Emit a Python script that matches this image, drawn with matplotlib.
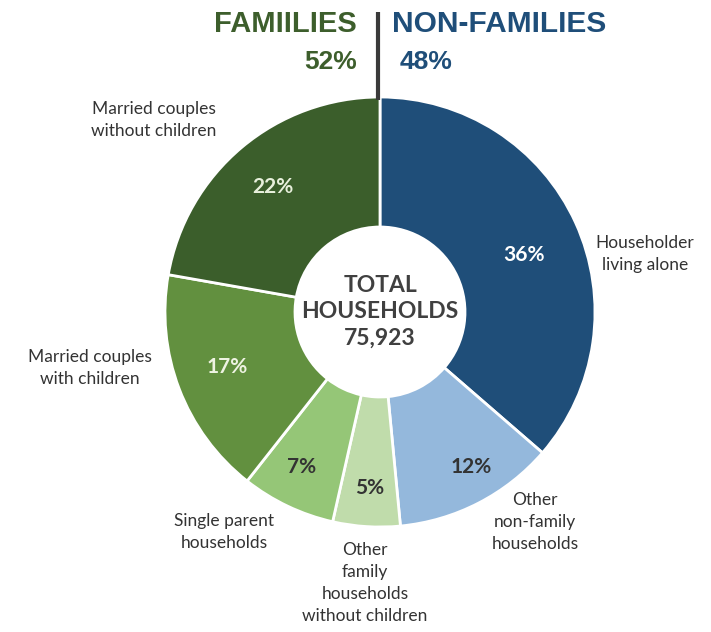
import matplotlib.pyplot as plt

# data (clockwise from 12 o'clock)
categories = ['Householder\nliving alone', 'Other\nnon-family\nhouseholds',
              'Other\nfamily\nhouseholds\nwithout children', 'Single parent\nhouseholds',
              'Married couples\nwith children', 'Married couples\nwithout children']
shares = [36, 12, 5, 7, 17, 22]
pct_labels = ['36%', '12%', '5%', '7%', '17%', '22%']
colors = ['#1f4e79', '#94b8dc', '#c0dcab', '#95c677', '#62903f', '#3b5e2b']
pct_colors = ['white', '#333333', '#333333', '#333333', '#eef3e2', '#e8f0dc']

groups = ['FAMIILIES', 'NON-FAMILIES']
group_pcts = ['52%', '48%']
total = '75,923'

W, H = 711, 632
fig = plt.figure(figsize=(W / 100, H / 100), dpi=100)
ax = fig.add_axes([0, 0, 1, 1])

cx, cy, R = 380, 312, 215
# pie drawn in a flipped y axis, so counterclock=True gives clockwise on screen
ax.pie(shares, colors=colors, startangle=-90, counterclock=True, center=(cx, cy),
       radius=R, wedgeprops=dict(width=R - 85, edgecolor='white', linewidth=2),
       frame=True)
ax.set_xlim(0, W)
ax.set_ylim(H, 0)
ax.axis('off')

lab_font = ['Lato', 'DejaVu Sans']

# percentage labels
pct_pos = [(524, 255), (471, 467), (370, 488), (302, 467), (227, 367), (273, 187)]
for (x, y), t, c in zip(pct_pos, pct_labels, pct_colors):
    ax.text(x, y, t, ha='center', va='center', fontsize=15, fontweight='bold',
            color=c, family=lab_font)

# category labels
cat_pos = [(645, 254), (535, 522), (365, 583), (224, 532), (90, 368), (154, 120)]
for (x, y), t in zip(cat_pos, categories):
    ax.text(x, y, t, ha='center', va='center', fontsize=12.5, color='#333333',
            family=lab_font, linespacing=1.45)

# centre text
ax.text(cx, cy, 'TOTAL\nHOUSEHOLDS\n' + total, ha='center', va='center',
        fontsize=16.5, fontweight='bold', color='#404040', family=lab_font,
        linespacing=1.3)

# header
ax.plot([378, 378], [12, 100], color='#3a3a3a', lw=3, solid_capstyle='butt')
ax.text(357, 24, groups[0], ha='right', va='center', fontsize=21, fontweight='bold',
        color='#3d5e2c', family='Liberation Sans')
ax.text(357, 62, group_pcts[0], ha='right', va='center', fontsize=19, fontweight='bold',
        color='#3d5e2c', family='Liberation Sans')
ax.text(392, 24, groups[1], ha='left', va='center', fontsize=21.5, fontweight='bold',
        color='#1f4e79', family='Liberation Sans')
ax.text(400, 62, group_pcts[1], ha='left', va='center', fontsize=19, fontweight='bold',
        color='#1f4e79', family='Liberation Sans')

fig.savefig('out.png', dpi=100, facecolor='white')
